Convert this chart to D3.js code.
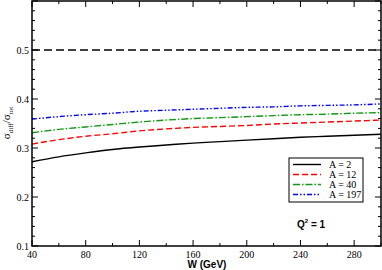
<!DOCTYPE html>
<html>
<head>
<meta charset="utf-8">
<script src="https://cdn.jsdelivr.net/npm/d3@7"></script>
<style>
  body { margin: 0; background: #fff; }
  svg { display: block; }
  .tick-label { font-family: "Liberation Serif", "DejaVu Serif", serif; font-size: 10px; fill: #000; }
  .axis-title { font-family: "Liberation Sans", Arial, sans-serif; font-size: 10px; font-weight: bold; }
</style>
</head>
<body>
<svg id="chart" width="382" height="270"></svg>
<script>
// W in GeV
var wValues = [40, 60, 80, 100, 120, 140, 160, 180, 200, 220, 240, 260, 280, 300];

// sigma_diff / sigma_tot for each nucleus
var ratioA2   = [0.272, 0.282, 0.290, 0.297, 0.302, 0.306, 0.310, 0.313, 0.316, 0.319, 0.322, 0.324, 0.326, 0.328];
var ratioA12  = [0.308, 0.317, 0.324, 0.329, 0.335, 0.339, 0.342, 0.344, 0.346, 0.349, 0.351, 0.353, 0.355, 0.357];
var ratioA40  = [0.331, 0.338, 0.343, 0.348, 0.353, 0.357, 0.360, 0.362, 0.364, 0.366, 0.368, 0.369, 0.371, 0.372];
var ratioA197 = [0.359, 0.364, 0.368, 0.371, 0.375, 0.377, 0.379, 0.381, 0.383, 0.384, 0.386, 0.387, 0.388, 0.390];

var seriesNames = ["A = 2", "A = 12", "A = 40", "A = 197"];
var blackLimit = 0.5;

var xTicks = [40, 80, 120, 160, 200, 240, 280];
var yTicks = [0.1, 0.2, 0.3, 0.4, 0.5];

var svg = d3.select("#chart");

var plotLeft = 32, plotRight = 381, plotTop = 1, plotBottom = 246;

var x = d3.scaleLinear().domain([40, 300]).range([plotLeft, plotRight]);
var y = d3.scaleLinear().domain([0.1, 0.6]).range([plotBottom, plotTop]);

var styles = [
    { color: "#000000", dash: null },
    { color: "#ff0000", dash: "6,3" },
    { color: "#119911", dash: "7,2,1.5,2" },
    { color: "#0000ff", dash: "5,2,1.5,2,1.5,2" }
];

var allSeries = [ratioA2, ratioA12, ratioA40, ratioA197];

// ticks, inward on all four sides
function drawTicks() {
    var g = svg.append("g").attr("stroke", "#000").attr("stroke-width", 1);
    d3.range(40, 301, 20).forEach(function(w) {
        var len = (w % 40 === 0) ? 6 : 3;
        g.append("line").attr("x1", x(w)).attr("x2", x(w)).attr("y1", plotBottom).attr("y2", plotBottom - len);
        g.append("line").attr("x1", x(w)).attr("x2", x(w)).attr("y1", plotTop).attr("y2", plotTop + len);
    });
    d3.range(0, 26).forEach(function(i) {
        var v = 0.1 + i * 0.02;
        var len = (i % 5 === 0) ? 6 : 3;
        g.append("line").attr("x1", plotLeft).attr("x2", plotLeft + len).attr("y1", y(v)).attr("y2", y(v));
        g.append("line").attr("x1", plotRight).attr("x2", plotRight - len).attr("y1", y(v)).attr("y2", y(v));
    });
}
drawTicks();

svg.selectAll(".xlab")
    .data(xTicks)
    .enter()
    .append("text")
    .attr("class", "tick-label")
    .attr("x", function(d) { return x(d); })
    .attr("y", plotBottom + 12)
    .attr("text-anchor", "middle")
    .text(function(d) { return d; });

svg.selectAll(".ylab")
    .data(yTicks)
    .enter()
    .append("text")
    .attr("class", "tick-label")
    .attr("x", plotLeft - 3)
    .attr("y", function(d) { return y(d) + 3.5; })
    .attr("text-anchor", "end")
    .text(function(d) { return d3.format(".1f")(d); });

// horizontal reference line
svg.append("line")
    .attr("x1", x(40)).attr("x2", x(300))
    .attr("y1", y(blackLimit)).attr("y2", y(blackLimit))
    .attr("stroke", "#000")
    .attr("stroke-width", 1.3)
    .attr("stroke-dasharray", "8,4");

var line = d3.line()
    .x(function(d, i) { return x(wValues[i]); })
    .y(function(d) { return y(d); })
    .curve(d3.curveMonotoneX);

allSeries.forEach(function(s, i) {
    svg.append("path")
        .attr("d", line(s))
        .attr("fill", "none")
        .attr("stroke", styles[i].color)
        .attr("stroke-width", 1.4)
        .attr("stroke-dasharray", styles[i].dash);
});

// frame
svg.append("rect")
    .attr("x", plotLeft).attr("y", plotTop)
    .attr("width", plotRight - plotLeft).attr("height", plotBottom - plotTop)
    .attr("fill", "none")
    .attr("stroke", "#000")
    .attr("stroke-width", 1.5);

// legend
var legend = svg.append("g").attr("transform", "translate(289,158)");
legend.append("rect")
    .attr("width", 74).attr("height", 44)
    .attr("fill", "#fff")
    .attr("stroke", "#000")
    .attr("stroke-width", 1);

seriesNames.forEach(function(name, i) {
    var ly = 6.5 + i * 10;
    legend.append("line")
        .attr("x1", 4).attr("x2", 32)
        .attr("y1", ly).attr("y2", ly)
        .attr("stroke", styles[i].color)
        .attr("stroke-width", 1.4)
        .attr("stroke-dasharray", styles[i].dash);
    legend.append("text")
        .attr("class", "tick-label")
        .attr("x", 40)
        .attr("y", ly + 3.5)
        .text(name);
});

// Q^2 annotation
var q = svg.append("text")
    .attr("class", "axis-title")
    .attr("x", 297)
    .attr("y", 228);
q.append("tspan").text("Q");
q.append("tspan").attr("font-size", "6px").attr("dy", -5).text("2");
q.append("tspan").attr("dy", 5).text(" = 1");

// axis titles
svg.append("text")
    .attr("class", "axis-title")
    .attr("x", 207)
    .attr("y", 268)
    .attr("text-anchor", "middle")
    .text("W (GeV)");

var yt = svg.append("text")
    .attr("transform", "translate(10,123) rotate(-90)")
    .attr("text-anchor", "middle")
    .attr("font-family", "Liberation Serif, DejaVu Serif, serif")
    .attr("font-size", "11px");
yt.append("tspan").text("σ");
yt.append("tspan").attr("font-size", "7px").attr("dy", 3).text("diff");
yt.append("tspan").attr("dy", -3).text("/σ");
yt.append("tspan").attr("font-size", "7px").attr("dy", 3).text("tot");
</script>
</body>
</html>
